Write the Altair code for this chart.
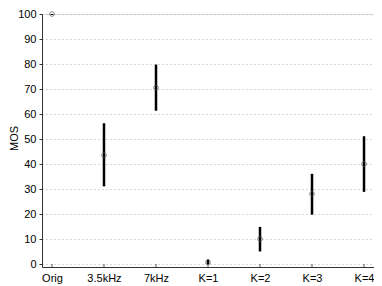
import altair as alt
import pandas as pd

conditions = ["Orig", "3.5kHz", "7kHz", "K=1", "K=2", "K=3", "K=4"]
mos_mean = [100.0, 43.6, 70.6, 0.9, 10.2, 28.2, 40.1]
mos_low = [99.6, 31.2, 61.4, 0.0, 5.2, 19.9, 29.0]
mos_high = [100.0, 56.4, 79.8, 2.0, 15.0, 36.2, 51.2]
y_ticks = [0, 10, 20, 30, 40, 50, 60, 70, 80, 90, 100]

df = pd.DataFrame({"cond": conditions, "mean": mos_mean, "lo": mos_low, "hi": mos_high})

font = "Liberation Sans"
W, H = 332, 253
x_scale = alt.Scale(type="point", padding=0.192)
x_axis = alt.Axis(title=None, labelAngle=0, labelFont=font, labelFontSize=11,
                  labelColor="black", domainColor="#333333", tickSize=0,
                  labelPadding=5, labelOverlap=False, grid=False)
y_scale = alt.Scale(domain=[-1.0, 100.0], nice=False, zero=False)
y_axis = alt.Axis(title="MOS", values=y_ticks, titleFont=font, titleFontSize=11,
                  titleFontWeight="normal", titleColor="black",
                  titleX=-28, titleY=124, titleAngle=-90, titleAlign="center",
                  titleBaseline="middle",
                  labelFont=font, labelFontSize=11, labelColor="black",
                  labelOverlap=False, labelPadding=3,
                  domainColor="#333333", tickColor="#333333", tickSize=3,
                  grid=True, gridColor="#b0b0b0", gridDash=[1, 3], gridWidth=1)

rules = alt.Chart(df).mark_rule(color="black", strokeWidth=2.5).encode(
    x=alt.X("cond:N", sort=conditions, scale=x_scale, axis=x_axis),
    y=alt.Y("lo:Q", scale=y_scale, axis=y_axis),
    y2="hi:Q",
)
xticks = alt.Chart(df).mark_rule(color="#555555", strokeWidth=1).encode(
    x=alt.X("cond:N", sort=conditions, scale=x_scale, axis=x_axis),
    y=alt.value(H - 3),
    y2=alt.value(H),
)
points = alt.Chart(df).mark_point(shape="circle", size=22, color="#555555", strokeWidth=1,
                                  filled=False).encode(
    x=alt.X("cond:N", sort=conditions, scale=x_scale, axis=x_axis),
    y=alt.Y("mean:Q", scale=y_scale, axis=y_axis),
)

chart = alt.layer(rules, xticks, points).properties(
    width=W, height=H, autosize=alt.AutoSizeParams(type="none"),
    padding={"left": 34, "top": 6, "right": 0, "bottom": 19},
).configure_view(stroke=None).configure(background="white")

chart.save("out.html", embed_options={"renderer": "svg", "actions": False})
